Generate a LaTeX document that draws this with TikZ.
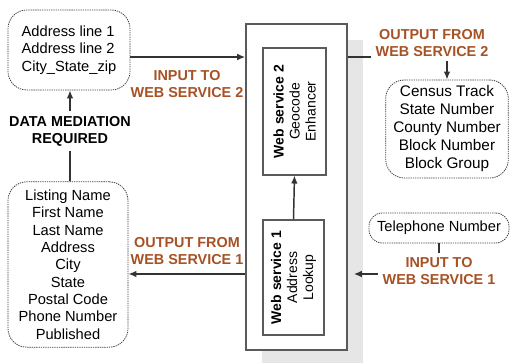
\documentclass[tikz,border=0pt]{standalone}
\usepackage{fontspec}
\setmainfont{Liberation Sans}
\usetikzlibrary{arrows.meta, shadows, positioning}
\definecolor{labelbrown}{RGB}{166,82,36}
\definecolor{boxgray}{RGB}{90,90,90}
\definecolor{shadowgray}{RGB}{230,230,230}
\tikzstyle{list} = [rectangle, rounded corners=14pt, draw=black!75, dash pattern=on 1pt off 0.7pt, line width=0.6pt, align=center, font=\fontsize{11}{13}\selectfont]
\tikzstyle{engine} = [rectangle, draw=boxgray, line width=1.2pt, fill=white, drop shadow={shadow xshift=12pt, shadow yshift=-12pt, fill=shadowgray, opacity=1}]
\tikzstyle{service} = [rectangle, draw=boxgray, line width=0.8pt, align=center, rotate=90, font=\fontsize{10.5}{12}\selectfont]
\tikzstyle{brownlabel} = [align=center, text=labelbrown, font=\fontsize{10.8}{12.75}\selectfont\bfseries]
\tikzstyle{blacklabel} = [align=center, font=\fontsize{10.8}{12.75}\selectfont\bfseries]
\tikzstyle{arrow} = [line width=1.1pt, draw=black!80, ->, >={Latex[length=6pt,width=5pt]}]
\tikzstyle{link} = [line width=1.1pt, draw=black!80]

\begin{document}
\begin{tikzpicture}[x=0.75pt, y=-0.75pt]
\useasboundingbox (0,0) rectangle (512,363);

%Web services
\node (engine) [engine, minimum width=75.75pt, minimum height=244.5pt] at (296.5,187) {};
\node (ws2) [service, minimum width=95.25pt, minimum height=47.25pt] at (294.5,111.5) {\textbf{Web service 2}\\Geocode\\Enhancer};
\node (ws1) [service, minimum width=86.25pt, minimum height=45.75pt] at (293.5,277.5) {\textbf{Web service 1}\\Address\\Lookup};

%Data lists
\node (addr_in) [list, align=left, minimum width=91.5pt, minimum height=60pt] at (69,50) {Address line 1\\Address line 2\\City\_State\_zip};
\node (listing) [list, minimum width=90pt, minimum height=124pt] at (68,264.5) {Listing Name\\First Name\\Last Name\\Address\\City\\State\\Postal Code\\Phone Number\\Published};
\node (census) [list, minimum width=92pt, minimum height=73.5pt, font=\fontsize{11.5}{13.5}\selectfont] at (447,129) {Census Track\\State Number\\County Number\\Block Number\\Block Group};
\node (phone) [list, rounded corners=10pt, minimum width=105pt, minimum height=22.5pt] at (439,228) {Telephone Number};

%Labels
\node (in2) [brownlabel] at (187,84) {INPUT TO\\WEB SERVICE 2};
\node (out2) [brownlabel] at (432,43) {OUTPUT FROM\\WEB SERVICE 2};
\node (out1) [brownlabel] at (187,251) {OUTPUT FROM\\WEB SERVICE 1};
\node (in1) [brownlabel, below=7pt of phone] {INPUT TO\\WEB SERVICE 1};
\node (mediation) [blacklabel] at (70,131) {DATA MEDIATION\\REQUIRED};

\coordinate (row2) at (0,57);
\coordinate (row1) at (0,274);

\draw [arrow] (addr_in.east |- row2) -- (engine.west |- row2);
\draw [link] (engine.east |- row2) -- (out2.west |- row2);
\draw [arrow] (out2.south -| census.north) -- (census.north);
\draw [arrow] (ws1.east) -- (ws2.west);
\draw [arrow] (engine.west |- row1) -- (listing.east |- row1);
\draw [link] (phone.south) -- (in1.north);
\draw [arrow] (in1.west |- row1) -- ([xshift=4.5pt]engine.east |- row1);
\draw [arrow] (mediation.north) -- (mediation.north |- addr_in.south);
\draw [link] (mediation.south) -- (mediation.south |- listing.north);

\end{tikzpicture}
\end{document}
